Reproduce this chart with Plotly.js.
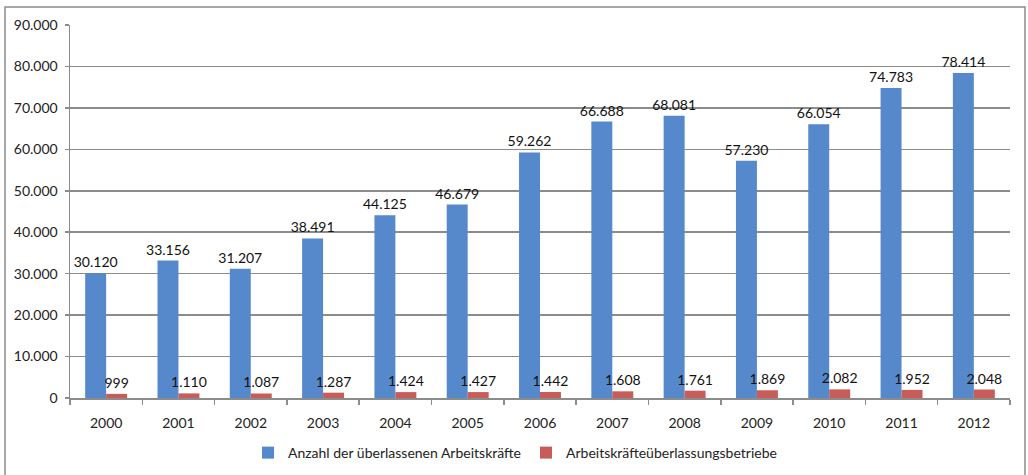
<!DOCTYPE html>
<html>
<head>
<meta charset="utf-8">
<script src="https://cdn.plot.ly/plotly-3.0.1.min.js"></script>
<style>html,body{margin:0;padding:0;background:#fff;}#chart{width:1028px;height:475px;}</style>
</head>
<body>
<div id="chart"></div>
<script>
const years = ["2000","2001","2002","2003","2004","2005","2006","2007","2008","2009","2010","2011","2012"];
const arbeitskraefte = [30120,33156,31207,38491,44125,46679,59262,66688,68081,57230,66054,74783,78414];
const betriebe = [999,1110,1087,1287,1424,1427,1442,1608,1761,1869,2082,1952,2048];
const seriesNames = ["Anzahl der überlassenen Arbeitskräfte","Arbeitskräfteüberlassungsbetriebe"];
const yTicks = [0,10000,20000,30000,40000,50000,60000,70000,80000,90000];

const FONT = "Lato, 'Open Sans', sans-serif";
const traces = [
  {type:'bar', x:years, y:arbeitskraefte, name:seriesNames[0],
   marker:{color:'#5689CB'}, texttemplate:'%{y:,.0f}', textposition:'outside',
   constraintext:'none', cliponaxis:false,
   textfont:{family:FONT,size:14,color:'#111'}, hoverinfo:'x+y'},
  {type:'bar', x:years, y:betriebe, name:seriesNames[1],
   marker:{color:'#C75C59'}, texttemplate:'%{y:,.0f}', textposition:'outside',
   constraintext:'none', cliponaxis:false,
   textfont:{family:FONT,size:14,color:'#111'}, hoverinfo:'x+y'}
];
const layout = {
  width:1028, height:475,
  margin:{l:70, r:18, t:25, b:77, autoexpand:false},
  paper_bgcolor:'#fff', plot_bgcolor:'#fff',
  separators:',.',
  font:{family:FONT, size:13, color:'#222'},
  barmode:'group', bargap:0.42, bargroupgap:0,
  showlegend:true,
  legend:{orientation:'h', x:(248-70)/940, xanchor:'left', y:(398-453)/373, yanchor:'middle',
          font:{family:FONT,size:14,color:'#222'}, itemwidth:30, tracegroupgap:0},
  xaxis:{type:'category', showgrid:false, showline:true, linecolor:'#8c8c8c', linewidth:1.5,
         ticks:'outside', tickson:'boundaries', ticklen:5, tickcolor:'#8c8c8c', tickwidth:1.5,
         ticklabelstandoff:12,
         tickfont:{family:FONT,size:14,color:'#222'}, fixedrange:true, automargin:false},
  yaxis:{range:[0,90000], tickvals:yTicks, tickformat:',.0f', showgrid:true,
         gridcolor:'#8c8c8c', gridwidth:1.5, showline:true, linecolor:'#8c8c8c', linewidth:1.5,
         ticks:'outside', ticklen:4, tickcolor:'#8c8c8c', tickwidth:1.5, zeroline:false,
         ticklabelstandoff:4,
         tickfont:{family:FONT,size:14,color:'#222'}, fixedrange:true, automargin:false},
  shapes:[{type:'rect', xref:'paper', yref:'paper',
           x0:(5-70)/940, x1:(1025-70)/940, y0:(398-490)/373, y1:(398-7)/373,
           line:{color:'#8c8c8c', width:1.5}, fillcolor:'rgba(0,0,0,0)', layer:'below'}]
};
Plotly.newPlot('chart', traces, layout, {displayModeBar:false, staticPlot:true});
</script>
</body>
</html>
